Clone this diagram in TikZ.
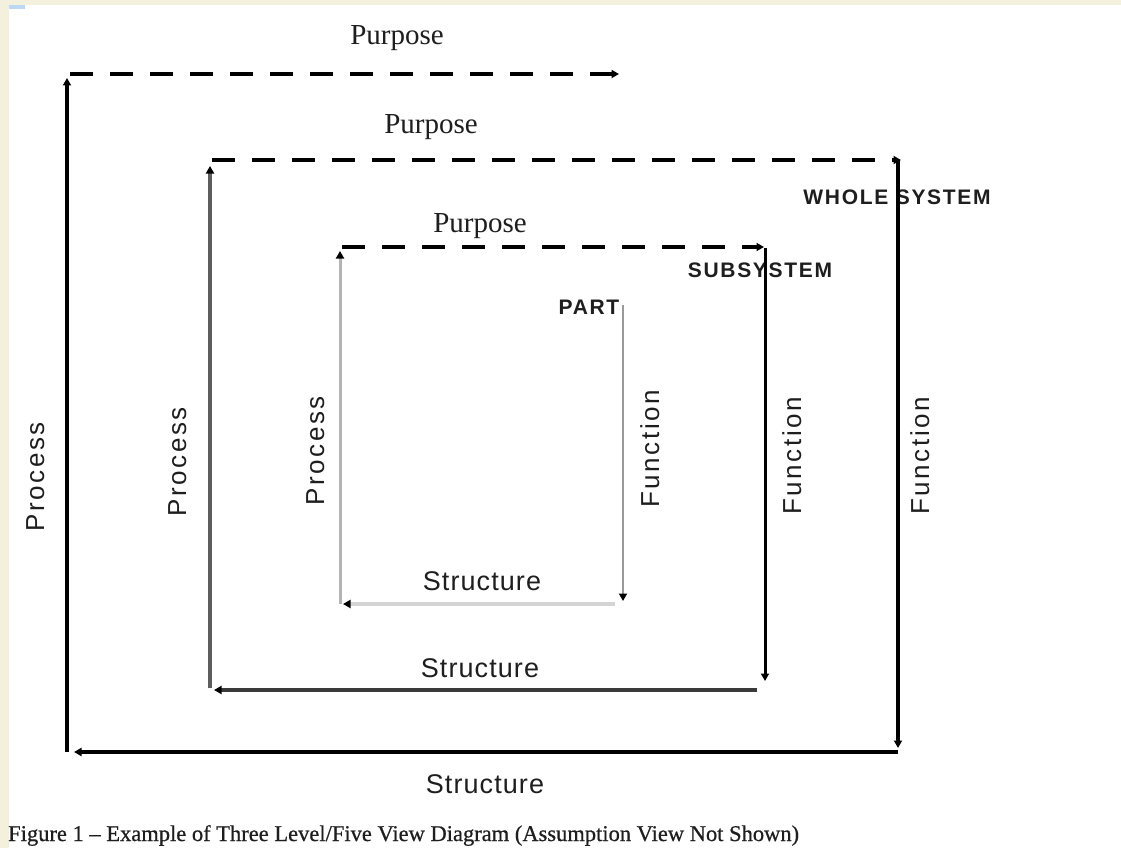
\documentclass[tikz,border=0pt]{standalone}
\usepackage{fontspec}
\setmainfont{Liberation Serif}
\setsansfont{Liberation Sans}
\usetikzlibrary{arrows.meta}
\definecolor{paper}{HTML}{F3F1DD}
\definecolor{ink}{HTML}{1E1E1E}
\definecolor{tabmark}{HTML}{BBD9F2}
\definecolor{midgray}{HTML}{5E5E5E}
\definecolor{darkgray}{HTML}{3A3A3A}
\definecolor{lightgray}{HTML}{B4B4B4}
\definecolor{palegray}{HTML}{D4D4D4}
\definecolor{fungray}{HTML}{9A9A9A}

\begin{document}
\begin{tikzpicture}[x=1pt,y=-1pt,
  tip/.style={-{Triangle[length=7.5pt,width=8pt,color=black]}},
  flow/.style={tip,line width=3.5pt},
  purposeline/.style={tip,line width=3.5pt,dash pattern=on 23pt off 17pt},
  purposelabel/.style={font=\fontsize{29}{29}\selectfont,text=ink,inner sep=0pt,anchor=base},
  viewlabel/.style={font=\sffamily\fontsize{26}{26}\selectfont\addfontfeature{LetterSpace=10},text=ink,inner sep=0pt,anchor=base},
  structlabel/.style={font=\sffamily\fontsize{27}{27}\selectfont\addfontfeature{LetterSpace=4},text=ink,inner sep=0pt,anchor=base},
  levellabel/.style={font=\sffamily\bfseries\fontsize{21}{21}\selectfont\addfontfeature{LetterSpace=8},text=ink,inner sep=0pt,anchor=base},
  caption/.style={font=\fontsize{22.5}{22.5}\selectfont\addfontfeature{FakeBold=0.6},text=ink,inner sep=0pt,anchor=base west}]

% page: cream margin on top and left, white sheet
\useasboundingbox (0,0) rectangle (1121,848);
\fill[paper] (0,0) rectangle (1121,848);
\fill[white] (9,5) rectangle (1121,848);
\fill[tabmark] (9,5) rectangle (25,9);

% corner points of the three loops
\coordinate (oPb) at (67,752);  \coordinate (oPt) at (67,78);
\coordinate (oUs) at (70,74);   \coordinate (oUe) at (619,74);
\coordinate (oFt) at (898,160); \coordinate (oFb) at (898,748);
\coordinate (oSr) at (898,752); \coordinate (oSl) at (74,752);

\coordinate (mPb) at (210,688); \coordinate (mPt) at (210,166);
\coordinate (mUs) at (212,160); \coordinate (mUe) at (901,160);
\coordinate (mFt) at (765,248); \coordinate (mFb) at (765,681);
\coordinate (mSr) at (757,690); \coordinate (mSl) at (214,690);

\coordinate (iPb) at (340,604); \coordinate (iPt) at (340,251);
\coordinate (iUs) at (342,247); \coordinate (iUe) at (764,247);
\coordinate (iFt) at (623,305); \coordinate (iFb) at (623,601);
\coordinate (iSr) at (615,604); \coordinate (iSl) at (343,604);

% labels
\node[purposelabel] (pur1) at (397,45) {Purpose};
\node[purposelabel] (pur2) at (431,133) {Purpose};
\node[purposelabel] (pur3) at (480,232) {Purpose};

\node[levellabel] (whole) at (897,204) {WHOLE SYSTEM};
\node[levellabel] (sub) at (760,277) {SUBSYSTEM};
\node[levellabel] (part) at (589,314) {PART};

\node[viewlabel,rotate=90] (pro1) at (44,477) {Process};
\node[viewlabel,rotate=90] (pro2) at (186,462) {Process};
\node[viewlabel,rotate=90] (pro3) at (324,451) {Process};

\node[viewlabel,rotate=90] (fun1) at (659,449) {Function};
\node[viewlabel,rotate=90] (fun2) at (801,456) {Function};
\node[viewlabel,rotate=90] (fun3) at (929,456) {Function};

\node[structlabel] (str1) at (482,590) {Structure};
\node[structlabel] (str2) at (480,677) {Structure};
\node[structlabel] (str3) at (485,793) {Structure};

\node[caption] (cap) at (8,841) {Figure 1 -- Example of Three Level/Five View Diagram (Assumption View Not Shown)};

% outer loop (whole system)
\draw[flow,black] (oPb) -- (oPt);
\draw[purposeline,black] (oUs) -- (oUe);
\draw[flow,black] (oFt) -- (oFb);
\draw[flow,black] (oSr) -- (oSl);

% middle loop (subsystem)
\draw[flow,midgray] (mPb) -- (mPt);
\draw[purposeline,black] (mUs) -- (mUe);
\draw[flow,black,line width=3pt] (mFt) -- (mFb);
\draw[flow,darkgray] (mSr) -- (mSl);

% inner loop (part)
\draw[flow,lightgray,line width=3pt] (iPb) -- (iPt);
\draw[purposeline,black] (iUs) -- (iUe);
\draw[flow,fungray,line width=2pt] (iFt) -- (iFb);
\draw[flow,palegray,line width=3.5pt] (iSr) -- (iSl);
\end{tikzpicture}
\end{document}
